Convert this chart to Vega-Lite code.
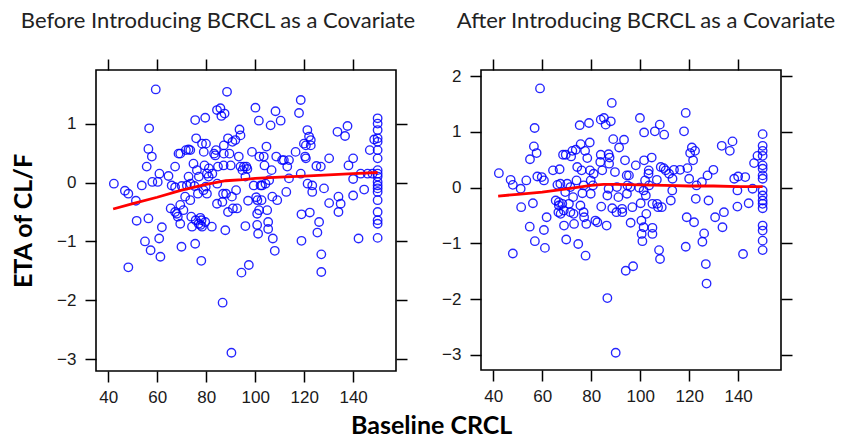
{
  "$schema": "https://vega.github.io/schema/vega-lite/v6.json",
  "padding": {"left": 10, "top": 9, "right": 4, "bottom": 0},
  "background": "white",
  "config": {
    "view": {"stroke": "#000000", "strokeWidth": 1.6},
    "axis": {"domain": false, "grid": false, "tickColor": "#000000", "tickWidth": 1.5, "tickSize": 11, "labelFont": "Liberation Sans", "labelFontSize": 17, "labelColor": "#1a1a1a", "titleFont": "Lato", "titleFontWeight": "bold", "titleFontSize": 25, "titleColor": "#000000"},
    "title": {"font": "Lato", "fontSize": 22, "fontWeight": "normal", "color": "#222222"}
  },
  "title": {"text": "Baseline CRCL", "orient": "bottom", "anchor": "middle", "frame": "bounds", "font": "Lato", "fontWeight": "bold", "fontSize": 25, "color": "#000000", "offset": 8, "dx": 8},
  "datasets": {
    "before": [
      {"crcl":42.3,"eta":-0.02},{"crcl":46.8,"eta":-0.14},{"crcl":48.2,"eta":-0.19},{"crcl":48.2,"eta":-1.44},{"crcl":51.3,"eta":-0.31},{"crcl":51.6,"eta":-0.65},{"crcl":53.7,"eta":-0.05},{"crcl":55,"eta":-1.0},{"crcl":55.7,"eta":0.27},{"crcl":56.4,"eta":0.57},{"crcl":56.7,"eta":0.92},{"crcl":56.4,"eta":-0.61},{"crcl":57.3,"eta":-1.15},{"crcl":57.8,"eta":0.44},{"crcl":58,"eta":0.01},{"crcl":59.4,"eta":1.58},{"crcl":60.2,"eta":0.01},{"crcl":60.9,"eta":0.15},{"crcl":60.8,"eta":-0.95},{"crcl":61.3,"eta":-1.26},{"crcl":61.9,"eta":-0.76},{"crcl":64.6,"eta":0.11},{"crcl":65.5,"eta":-0.44},{"crcl":65.9,"eta":-0.05},{"crcl":67.3,"eta":0.27},{"crcl":67.3,"eta":-0.08},{"crcl":67.3,"eta":-0.5},{"crcl":68,"eta":-0.53},{"crcl":68.4,"eta":-0.58},{"crcl":68.7,"eta":0.49},{"crcl":69.4,"eta":0.49},{"crcl":69.4,"eta":-0.38},{"crcl":69.4,"eta":-0.7},{"crcl":69.9,"eta":-1.09},{"crcl":70,"eta":-0.06},{"crcl":70.7,"eta":-0.47},{"crcl":71.4,"eta":-0.24},{"crcl":71.7,"eta":0.55},{"crcl":72.1,"eta":-0.05},{"crcl":72.8,"eta":0.56},{"crcl":73.5,"eta":0.55},{"crcl":72.8,"eta":0.1},{"crcl":73.5,"eta":-0.3},{"crcl":73.9,"eta":-0.58},{"crcl":74.2,"eta":-0.75},{"crcl":74.8,"eta":0.32},{"crcl":75.2,"eta":-0.06},{"crcl":75.5,"eta":1.06},{"crcl":75.5,"eta":-1.04},{"crcl":75.9,"eta":0.75},{"crcl":76.2,"eta":0.21},{"crcl":76.6,"eta":-0.19},{"crcl":76.9,"eta":-0.7},{"crcl":77.6,"eta":-0.6},{"crcl":78,"eta":-1.33},{"crcl":78.3,"eta":0.66},{"crcl":78.3,"eta":-0.75},{"crcl":78.9,"eta":-0.13},{"crcl":79.3,"eta":0.29},{"crcl":79.6,"eta":1.1},{"crcl":79.9,"eta":0.66},{"crcl":79.6,"eta":-0.67},{"crcl":80.3,"eta":0.15},{"crcl":80.3,"eta":-0.19},{"crcl":81,"eta":0.1},{"crcl":82.3,"eta":-0.75},{"crcl":83.7,"eta":0.46},{"crcl":84,"eta":0.55},{"crcl":84.4,"eta":1.23},{"crcl":84.4,"eta":-0.36},{"crcl":84.8,"eta":0.27},{"crcl":85.8,"eta":1.26},{"crcl":86.2,"eta":1.13},{"crcl":86.7,"eta":-2.04},{"crcl":86.9,"eta":-0.19},{"crcl":87.1,"eta":0.29},{"crcl":87.5,"eta":1.17},{"crcl":87.8,"eta":-0.81},{"crcl":88.1,"eta":-0.19},{"crcl":88.5,"eta":1.54},{"crcl":88.9,"eta":0.75},{"crcl":88.9,"eta":-0.5},{"crcl":89.5,"eta":0.49},{"crcl":90.3,"eta":-2.89},{"crcl":90.5,"eta":-0.24},{"crcl":90.9,"eta":-0.44},{"crcl":91.9,"eta":0.72},{"crcl":92.2,"eta":-0.13},{"crcl":92.6,"eta":-0.44},{"crcl":93.3,"eta":0.44},{"crcl":93.6,"eta":0.9},{"crcl":94,"eta":0.8},{"crcl":94,"eta":0.27},{"crcl":94.4,"eta":-1.53},{"crcl":95.4,"eta":0.27},{"crcl":96,"eta":0.1},{"crcl":96,"eta":-0.74},{"crcl":96.4,"eta":0.27},{"crcl":97.1,"eta":-0.31},{"crcl":97.4,"eta":-1.4},{"crcl":98.7,"eta":0.52},{"crcl":99.4,"eta":-0.05},{"crcl":100.1,"eta":1.27},{"crcl":100.4,"eta":-0.25},{"crcl":100.8,"eta":-0.53},{"crcl":100.8,"eta":-0.72},{"crcl":101.2,"eta":-0.87},{"crcl":101.5,"eta":1.05},{"crcl":101.7,"eta":0.44},{"crcl":102.2,"eta":-0.05},{"crcl":102.6,"eta":-0.3},{"crcl":102.8,"eta":-0.05},{"crcl":103.5,"eta":0.44},{"crcl":103.8,"eta":0.29},{"crcl":104.2,"eta":-0.02},{"crcl":104.6,"eta":0.61},{"crcl":104.9,"eta":-0.47},{"crcl":105.3,"eta":-0.67},{"crcl":105.3,"eta":-0.79},{"crcl":106.3,"eta":0.97},{"crcl":106.7,"eta":0.21},{"crcl":107,"eta":-0.24},{"crcl":107.2,"eta":-0.95},{"crcl":108,"eta":-1.16},{"crcl":108.3,"eta":1.21},{"crcl":108.6,"eta":0.44},{"crcl":109,"eta":-0.3},{"crcl":110.4,"eta":1.05},{"crcl":111,"eta":0.38},{"crcl":111.7,"eta":0.38},{"crcl":112.7,"eta":-0.16},{"crcl":113.1,"eta":0.27},{"crcl":113.8,"eta":0.38},{"crcl":113.8,"eta":0.07},{"crcl":116.5,"eta":0.52},{"crcl":117.9,"eta":1.18},{"crcl":118.6,"eta":1.4},{"crcl":118.6,"eta":0.15},{"crcl":118.9,"eta":-0.54},{"crcl":118.9,"eta":-0.99},{"crcl":119.9,"eta":0.66},{"crcl":120.4,"eta":0.44},{"crcl":121.3,"eta":0.89},{"crcl":122,"eta":0.78},{"crcl":122.3,"eta":-0.51},{"crcl":122.7,"eta":0.72},{"crcl":122.7,"eta":0.63},{"crcl":123.3,"eta":-0.05},{"crcl":123.3,"eta":-0.16},{"crcl":125,"eta":0.28},{"crcl":125.4,"eta":-0.85},{"crcl":126.1,"eta":-0.67},{"crcl":126.8,"eta":0.27},{"crcl":127,"eta":-1.22},{"crcl":127,"eta":-1.52},{"crcl":128.1,"eta":-0.1},{"crcl":130.2,"eta":0.41},{"crcl":130.2,"eta":-0.35},{"crcl":133.6,"eta":0.86},{"crcl":134,"eta":-0.24},{"crcl":134,"eta":-0.5},{"crcl":134.9,"eta":-0.36},{"crcl":136.7,"eta":0.79},{"crcl":137.7,"eta":0.96},{"crcl":138.1,"eta":0.29},{"crcl":140,"eta":0.41},{"crcl":140,"eta":0.06},{"crcl":140,"eta":-0.22},{"crcl":142.2,"eta":-0.95},{"crcl":143.1,"eta":0.15},{"crcl":144.5,"eta":-0.12},{"crcl":145.9,"eta":0.15},{"crcl":146.8,"eta":0.55},{"crcl":147.9,"eta":0.15},{"crcl":148.6,"eta":0.73},
      {"crcl":150,"eta":1.09},{"crcl":150,"eta":1.0},{"crcl":150,"eta":0.89},{"crcl":150,"eta":0.75},{"crcl":150,"eta":0.69},{"crcl":150,"eta":0.55},{"crcl":150,"eta":0.41},{"crcl":150,"eta":0.21},{"crcl":150,"eta":0.15},{"crcl":150,"eta":0.1},{"crcl":150,"eta":0.01},{"crcl":150,"eta":-0.05},{"crcl":150,"eta":-0.1},{"crcl":150,"eta":-0.16},{"crcl":150,"eta":-0.3},{"crcl":150,"eta":-0.5},{"crcl":150,"eta":-0.64},{"crcl":150,"eta":-0.7},{"crcl":150,"eta":-0.94},
      {"crcl":79,"eta":0.52},{"crcl":77,"eta":0.1},{"crcl":81.1,"eta":0.24},{"crcl":83.2,"eta":0.49},{"crcl":87.2,"eta":0.63},{"crcl":87.2,"eta":0.49},{"crcl":90,"eta":0.29},{"crcl":90.7,"eta":0.69},{"crcl":94.8,"eta":0.21},{"crcl":86.6,"eta":-0.33},{"crcl":84.5,"eta":-0.02},{"crcl":82.5,"eta":0.15},{"crcl":79.8,"eta":-0.07},{"crcl":73.6,"eta":-0.02},{"crcl":75.7,"eta":-0.64},{"crcl":78.1,"eta":-0.64},{"crcl":77.7,"eta":-0.72},{"crcl":120.7,"eta":0.63},{"crcl":120.7,"eta":0.41},{"crcl":105.7,"eta":0.04},{"crcl":100.9,"eta":-0.3},{"crcl":101.6,"eta":-0.47},{"crcl":121.4,"eta":-0.02},{"crcl":96.8,"eta":0.23}
    ],
    "beforeFit": [
      {"crcl":42,"eta":-0.45},{"crcl":50,"eta":-0.36},{"crcl":60,"eta":-0.25},{"crcl":70,"eta":-0.13},{"crcl":80,"eta":-0.03},{"crcl":88,"eta":0.03},{"crcl":95,"eta":0.05},{"crcl":100,"eta":0.07},{"crcl":110,"eta":0.09},{"crcl":120,"eta":0.11},{"crcl":130,"eta":0.13},{"crcl":140,"eta":0.15},{"crcl":150,"eta":0.17}
    ],
    "after": [
      {"crcl":42.3,"eta":0.26},{"crcl":47.1,"eta":0.14},{"crcl":48,"eta":0.05},{"crcl":48,"eta":-1.18},{"crcl":51.2,"eta":-0.02},{"crcl":51.4,"eta":-0.35},{"crcl":53.5,"eta":0.13},{"crcl":54.9,"eta":-0.7},{"crcl":55,"eta":0.51},{"crcl":56.2,"eta":-0.28},{"crcl":56.6,"eta":0.74},{"crcl":56.9,"eta":1.07},{"crcl":57,"eta":-0.96},{"crcl":57.7,"eta":0.62},{"crcl":58,"eta":0.2},{"crcl":59.1,"eta":1.78},{"crcl":59.8,"eta":0.19},{"crcl":60.7,"eta":-0.76},{"crcl":61.1,"eta":-1.08},{"crcl":61.8,"eta":-0.53},{"crcl":60.7,"eta":0.13},{"crcl":64.4,"eta":0.31},{"crcl":65.5,"eta":-0.23},{"crcl":66.2,"eta":0.05},{"crcl":66.6,"eta":-0.44},{"crcl":66.8,"eta":-0.32},{"crcl":67.1,"eta":0.33},{"crcl":67.5,"eta":-0.47},{"crcl":68.2,"eta":-0.29},{"crcl":68.5,"eta":0.59},{"crcl":68.9,"eta":-0.68},{"crcl":69.6,"eta":0.59},{"crcl":69.8,"eta":-0.93},{"crcl":70.2,"eta":0.07},{"crcl":70.9,"eta":-0.29},{"crcl":71.8,"eta":0.56},{"crcl":72.3,"eta":0.66},{"crcl":72.6,"eta":-0.17},{"crcl":73,"eta":-0.65},{"crcl":73.7,"eta":0.68},{"crcl":74,"eta":0.13},{"crcl":74.3,"eta":0.37},{"crcl":74.7,"eta":-1.01},{"crcl":75.3,"eta":1.12},{"crcl":75.7,"eta":0.78},{"crcl":76.1,"eta":0.31},{"crcl":76.4,"eta":-0.1},{"crcl":77.1,"eta":-0.53},{"crcl":77.5,"eta":0.66},{"crcl":77.7,"eta":-1.22},{"crcl":78,"eta":-0.65},{"crcl":78.4,"eta":0.53},{"crcl":79.1,"eta":1.16},{"crcl":79.4,"eta":0.81},{"crcl":79.5,"eta":0.31},{"crcl":79.8,"eta":0.13},{"crcl":79.8,"eta":-0.11},{"crcl":80.7,"eta":0.04},{"crcl":82.5,"eta":-0.62},{"crcl":83.9,"eta":0.59},{"crcl":83.9,"eta":1.22},{"crcl":84.1,"eta":-0.34},{"crcl":84.5,"eta":0.31},{"crcl":85.2,"eta":1.25},{"crcl":85.9,"eta":1.13},{"crcl":86.3,"eta":-0.68},{"crcl":86.6,"eta":-1.98},{"crcl":86.6,"eta":-0.14},{"crcl":87.3,"eta":0.43},{"crcl":87.5,"eta":0.54},{"crcl":88,"eta":1.19},{"crcl":88.4,"eta":1.52},{"crcl":88.6,"eta":-0.37},{"crcl":89,"eta":0.87},{"crcl":89.7,"eta":0.28},{"crcl":90,"eta":-2.96},{"crcl":90.3,"eta":-0.44},{"crcl":91.1,"eta":-0.17},{"crcl":91.4,"eta":0.72},{"crcl":92.7,"eta":-0.44},{"crcl":93.4,"eta":0.86},{"crcl":93.8,"eta":0.49},{"crcl":94.1,"eta":-1.49},{"crcl":94.5,"eta":0.22},{"crcl":94.8,"eta":0.04},{"crcl":95.4,"eta":0.22},{"crcl":96.1,"eta":-0.63},{"crcl":96.8,"eta":-0.35},{"crcl":97.1,"eta":-1.41},{"crcl":98.2,"eta":0.4},{"crcl":99.6,"eta":0.0},{"crcl":99.9,"eta":1.25},{"crcl":100.2,"eta":-0.28},{"crcl":100.5,"eta":-0.59},{"crcl":100.6,"eta":-0.83},{"crcl":100.9,"eta":-0.96},{"crcl":101.6,"eta":0.99},{"crcl":101.6,"eta":0.49},{"crcl":102,"eta":0.13},{"crcl":102.3,"eta":-0.14},{"crcl":102.5,"eta":-0.47},{"crcl":103.4,"eta":0.25},{"crcl":103.6,"eta":0.04},{"crcl":104.7,"eta":0.54},{"crcl":105,"eta":-0.29},{"crcl":105,"eta":-0.72},{"crcl":105,"eta":-0.83},{"crcl":106,"eta":1.01},{"crcl":106.8,"eta":0.14},{"crcl":107.3,"eta":-0.35},{"crcl":107.7,"eta":-1.12},{"crcl":108,"eta":1.13},{"crcl":108.1,"eta":-1.28},{"crcl":108.4,"eta":0.37},{"crcl":108.8,"eta":-0.35},{"crcl":109.8,"eta":0.95},{"crcl":110.4,"eta":0.31},{"crcl":111.8,"eta":0.25},{"crcl":112.5,"eta":-0.23},{"crcl":113.2,"eta":0.16},{"crcl":113.8,"eta":0.32},{"crcl":116.3,"eta":0.32},{"crcl":117.9,"eta":1.01},{"crcl":118.6,"eta":1.34},{"crcl":118.6,"eta":-1.06},{"crcl":119,"eta":-0.53},{"crcl":119.3,"eta":0.35},{"crcl":120,"eta":0.16},{"crcl":120.4,"eta":0.62},{"crcl":121.1,"eta":0.72},{"crcl":121.6,"eta":0.49},{"crcl":122,"eta":-0.62},{"crcl":122.4,"eta":0.66},{"crcl":122.7,"eta":-0.2},{"crcl":123,"eta":0.04},{"crcl":125.4,"eta":-0.97},{"crcl":126.1,"eta":-0.82},{"crcl":126.8,"eta":-1.37},{"crcl":127.1,"eta":-1.72},{"crcl":127.5,"eta":0.22},{"crcl":127.9,"eta":-0.23},{"crcl":129.9,"eta":0.32},{"crcl":130.6,"eta":-0.53},{"crcl":133.3,"eta":0.75},{"crcl":133.6,"eta":-0.71},{"crcl":134.2,"eta":-0.44},{"crcl":136.6,"eta":0.66},{"crcl":137.7,"eta":0.83},{"crcl":138.4,"eta":0.16},{"crcl":139.7,"eta":-0.05},{"crcl":139.7,"eta":-0.34},{"crcl":140,"eta":0.2},{"crcl":142,"eta":-1.19},{"crcl":142.9,"eta":0.19},{"crcl":144.3,"eta":-0.28},{"crcl":145.9,"eta":-0.02},{"crcl":146.5,"eta":0.44},{"crcl":147.9,"eta":0.57},
      {"crcl":150,"eta":0.96},{"crcl":150,"eta":0.75},{"crcl":150,"eta":0.66},{"crcl":150,"eta":0.57},{"crcl":150,"eta":0.4},{"crcl":150,"eta":0.34},{"crcl":150,"eta":0.22},{"crcl":150,"eta":0.16},{"crcl":150,"eta":-0.05},{"crcl":150,"eta":-0.14},{"crcl":150,"eta":-0.23},{"crcl":150,"eta":-0.29},{"crcl":150,"eta":-0.37},{"crcl":150,"eta":-0.68},{"crcl":150,"eta":-0.77},{"crcl":150,"eta":-0.95},{"crcl":150,"eta":-1.12},
      {"crcl":81,"eta":0.25},{"crcl":87.1,"eta":0.6},{"crcl":83.7,"eta":0.46},{"crcl":67.4,"eta":0.07},{"crcl":76.9,"eta":0.04},{"crcl":69.4,"eta":-0.08},{"crcl":71.5,"eta":0.01},{"crcl":66.8,"eta":-0.26},{"crcl":68.8,"eta":-0.41},{"crcl":71.5,"eta":-0.44},{"crcl":72.8,"eta":-0.47},{"crcl":75.6,"eta":-0.32},{"crcl":76.9,"eta":-0.44},{"crcl":81.7,"eta":-0.59},{"crcl":92.6,"eta":-0.38},{"crcl":94.6,"eta":-0.11},{"crcl":87.1,"eta":-0.02},{"crcl":90.5,"eta":0.01},{"crcl":103.5,"eta":0.31},{"crcl":109.6,"eta":0.35},{"crcl":96,"eta":0.01},{"crcl":101.4,"eta":-0.05},{"crcl":113.1,"eta":-0.05},{"crcl":106.9,"eta":-0.29},{"crcl":125.2,"eta":0.1},{"crcl":101.4,"eta":-0.71}
    ],
    "afterFit": [
      {"crcl":42,"eta":-0.15},{"crcl":50,"eta":-0.12},{"crcl":60,"eta":-0.08},{"crcl":70,"eta":-0.02},{"crcl":80,"eta":0.04},{"crcl":85,"eta":0.06},{"crcl":90,"eta":0.06},{"crcl":100,"eta":0.05},{"crcl":110,"eta":0.04},{"crcl":120,"eta":0.03},{"crcl":130,"eta":0.03},{"crcl":140,"eta":0.02},{"crcl":150,"eta":0.02}
    ]
  },
  "bounds": "flush",
  "spacing": 85,
  "hconcat": [
    {
      "width": 300,
      "height": 301,
      "title": {"text": "Before Introducing BCRCL as a Covariate", "anchor": "middle", "frame": "group", "dx": -28, "offset": 25},
      "layer": [
        {
          "data": {"name": "before"},
          "mark": {"type": "point", "shape": "circle", "filled": false, "size": 72, "stroke": "#0000ff", "strokeWidth": 1.35, "opacity": 0.85},
          "encoding": {
            "x": {"field": "crcl", "type": "quantitative", "scale": {"domain": [35, 157.5], "nice": false, "zero": false}, "axis": {"orient": "bottom", "values": [40, 60, 80, 100, 120, 140], "title": null, "labelPadding": 7}},
            "y": {"field": "eta", "type": "quantitative", "scale": {"domain": [-3.2, 1.91], "nice": false, "zero": false}, "axis": {"orient": "left", "values": [-3, -2, -1, 0, 1], "format": "d", "title": "ETA of CL/F", "titlePadding": 20, "labelPadding": 9}}
          }
        },
        {
          "data": {"name": "beforeFit"},
          "mark": {"type": "line", "color": "#ff0000", "strokeWidth": 2.8},
          "encoding": {
            "x": {"field": "crcl", "type": "quantitative", "axis": {"orient": "top", "values": [40, 60, 80, 100, 120, 140], "labels": false, "title": null}},
            "y": {"field": "eta", "type": "quantitative", "axis": {"orient": "right", "values": [-3, -2, -1, 0, 1], "labels": false, "title": null}}
          }
        }
      ],
      "resolve": {"axis": {"x": "independent", "y": "independent"}}
    },
    {
      "width": 300,
      "height": 300,
      "title": {"text": "After Introducing BCRCL as a Covariate", "anchor": "middle", "frame": "group", "dx": 15, "offset": 25},
      "layer": [
        {
          "data": {"name": "after"},
          "mark": {"type": "point", "shape": "circle", "filled": false, "size": 72, "stroke": "#0000ff", "strokeWidth": 1.35, "opacity": 0.85},
          "encoding": {
            "x": {"field": "crcl", "type": "quantitative", "scale": {"domain": [35, 157.5], "nice": false, "zero": false}, "axis": {"orient": "bottom", "values": [40, 60, 80, 100, 120, 140], "title": null, "labelPadding": 7}},
            "y": {"field": "eta", "type": "quantitative", "scale": {"domain": [-3.27, 2.11], "nice": false, "zero": false}, "axis": {"orient": "left", "values": [-3, -2, -1, 0, 1, 2], "format": "d", "title": null, "labelPadding": 9}}
          }
        },
        {
          "data": {"name": "afterFit"},
          "mark": {"type": "line", "color": "#ff0000", "strokeWidth": 2.8},
          "encoding": {
            "x": {"field": "crcl", "type": "quantitative", "axis": {"orient": "top", "values": [40, 60, 80, 100, 120, 140], "labels": false, "title": null}},
            "y": {"field": "eta", "type": "quantitative", "axis": {"orient": "right", "values": [-3, -2, -1, 0, 1, 2], "labels": false, "title": null}}
          }
        }
      ],
      "resolve": {"axis": {"x": "independent", "y": "independent"}}
    }
  ]
}
